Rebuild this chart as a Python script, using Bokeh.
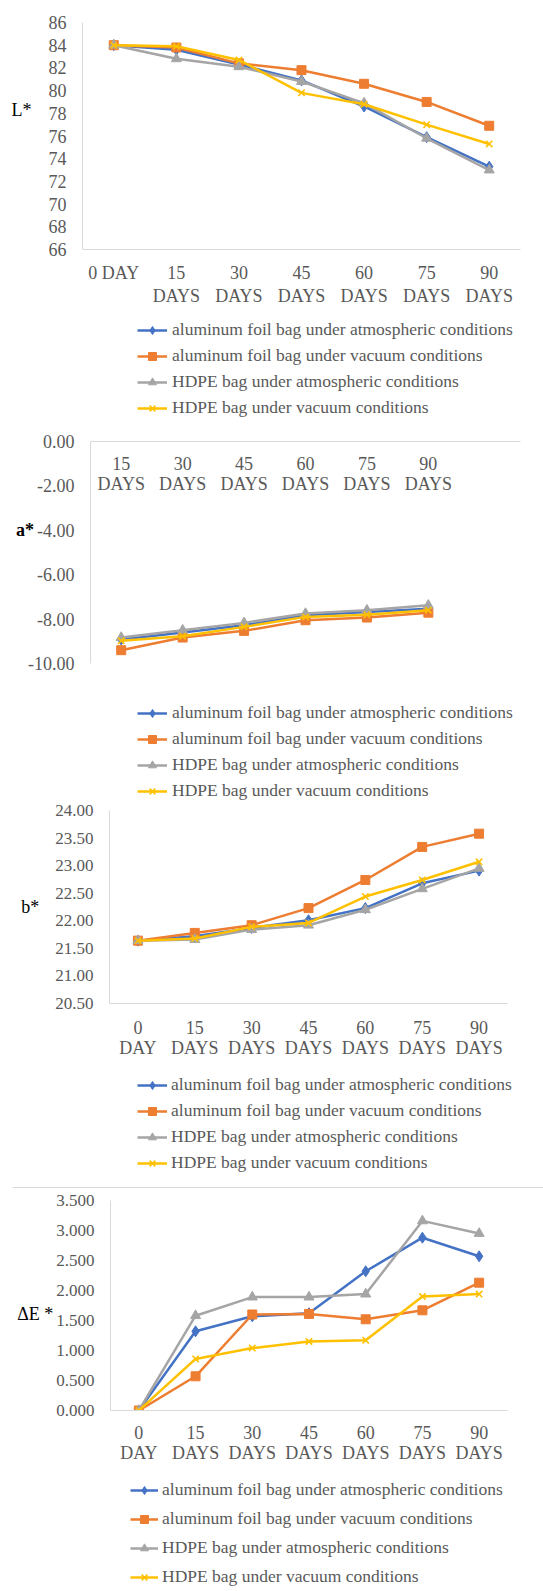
from bokeh.plotting import figure
from bokeh.models import (Range1d, FactorRange, FixedTicker, NumeralTickFormatter,
                          Legend, LegendItem, Div)
from bokeh.layouts import column
from bokeh.embed import file_html
from bokeh.resources import INLINE
from bokeh.core.properties import value

# ---------------- data ----------------
series_names = ["aluminum foil bag under atmospheric conditions",
                "aluminum foil bag under vacuum conditions",
                "HDPE bag under atmospheric conditions",
                "HDPE bag under vacuum conditions"]
series_colors = ["#4472C4", "#ED7D31", "#A5A5A5", "#FFC000"]
series_markers = ["diamond", "square", "triangle", "x"]
series_sizes = [11, 9, 10, 9]

# category labels (as printed on each chart)
days_L = ["0 DAY", "15\nDAYS", "30\nDAYS", "45\nDAYS", "60\nDAYS", "75\nDAYS", "90\nDAYS"]
days_a = ["15\nDAYS", "30\nDAYS", "45\nDAYS", "60\nDAYS", "75\nDAYS", "90\nDAYS"]
days_b = ["0\nDAY", "15\nDAYS", "30\nDAYS", "45\nDAYS", "60\nDAYS", "75\nDAYS", "90\nDAYS"]

# L*
L_alu_atm = [84.0, 83.6, 82.3, 80.9, 78.6, 75.9, 73.3]
L_alu_vac = [84.0, 83.8, 82.4, 81.8, 80.6, 79.0, 76.9]
L_hdpe_atm = [84.0, 82.8, 82.1, 80.8, 78.9, 75.8, 73.0]
L_hdpe_vac = [84.0, 83.9, 82.7, 79.8, 78.8, 77.0, 75.3]
L_ticks = [66, 68, 70, 72, 74, 76, 78, 80, 82, 84, 86]

# a*
a_alu_atm = [-8.92, -8.60, -8.28, -7.83, -7.68, -7.53]
a_alu_vac = [-9.40, -8.83, -8.53, -8.05, -7.93, -7.71]
a_hdpe_atm = [-8.83, -8.50, -8.17, -7.75, -7.60, -7.38]
a_hdpe_vac = [-8.98, -8.77, -8.35, -7.90, -7.80, -7.60]
a_ticks = [0, -2, -4, -6, -8, -10]

# b*
b_alu_atm = [21.64, 21.72, 21.87, 22.01, 22.23, 22.68, 22.91]
b_alu_vac = [21.64, 21.78, 21.92, 22.23, 22.74, 23.34, 23.58]
b_hdpe_atm = [21.64, 21.66, 21.84, 21.92, 22.20, 22.58, 22.95]
b_hdpe_vac = [21.64, 21.68, 21.89, 21.96, 22.44, 22.74, 23.07]
b_ticks = [20.5, 21.0, 21.5, 22.0, 22.5, 23.0, 23.5, 24.0]

# Delta E*
E_alu_atm = [0.0, 1.32, 1.57, 1.62, 2.32, 2.88, 2.57]
E_alu_vac = [0.0, 0.57, 1.60, 1.61, 1.52, 1.67, 2.13]
E_hdpe_atm = [0.0, 1.58, 1.89, 1.89, 1.94, 3.16, 2.95]
E_hdpe_vac = [0.0, 0.86, 1.04, 1.15, 1.17, 1.90, 1.94]
E_ticks = [0.0, 0.5, 1.0, 1.5, 2.0, 2.5, 3.0, 3.5]

FONT = "Liberation Serif"
TICK_COLOR = "#595959"
AXIS_COLOR = "#D9D9D9"
W = 543
NAN = float("nan")


def no_align(p):
    try:
        p.frame_align = False
    except Exception:
        pass


def add_series(p, xs, ys, idx):
    col = series_colors[idx]
    mk = series_markers[idx]
    sz = series_sizes[idx]
    lr = p.line(x=xs, y=ys, line_color=col, line_width=2.5)
    if mk == "x":
        sr = p.scatter(x=xs, y=ys, marker=mk, size=sz, line_color=col, line_width=1.6)
    else:
        sr = p.scatter(x=xs, y=ys, marker=mk, size=sz, fill_color=col, line_color=col)
    return lr, sr


def make_chart(factors, series, y_range, y_ticks, y_format, tick_size,
               ylab_text, ylab_std, ylab_bold, ylab_lh,
               frame_w, frame_h, bl, br, bt, bb,
               x_std=12, x_lh=1.2, x_inside=False, pad_factor=False, y_std=16):
    xf = list(factors) + ([" "] if pad_factor else [])
    p = figure(x_range=FactorRange(factors=xf), y_range=Range1d(*y_range),
               frame_width=frame_w, frame_height=frame_h,
               min_border_left=bl, min_border_right=br,
               min_border_top=bt, min_border_bottom=bb,
               x_axis_location="above" if x_inside else "below",
               output_backend="svg", toolbar_location=None)
    no_align(p)
    p.outline_line_color = None
    p.grid.visible = False
    p.background_fill_color = "white"
    p.border_fill_color = "white"

    for ax in (p.xaxis[0], p.yaxis[0]):
        ax.axis_line_color = AXIS_COLOR
        ax.axis_line_width = 1
        ax.major_tick_line_color = None
        ax.minor_tick_line_color = None
        ax.major_tick_out = 0
        ax.major_tick_in = 0
        ax.minor_tick_out = 0
        ax.minor_tick_in = 0
        ax.major_label_text_font = FONT
        ax.major_label_text_color = TICK_COLOR

    ya = p.yaxis[0]
    ya.ticker = FixedTicker(ticks=y_ticks)
    ya.formatter = NumeralTickFormatter(format=y_format)
    ya.major_label_text_font_size = tick_size
    ya.major_label_standoff = y_std
    ya.axis_label = ylab_text
    ya.axis_label_text_font = FONT
    ya.axis_label_text_font_size = "18px"
    ya.axis_label_text_color = "black"
    ya.axis_label_text_font_style = "bold" if ylab_bold else "normal"
    ya.axis_label_text_line_height = ylab_lh
    ya.axis_label_standoff = ylab_std
    try:
        ya.axis_label_orientation = "horizontal"
    except Exception:
        pass

    xa = p.xaxis[0]
    if x_inside:
        xa.major_label_text_font_size = "0px"
        xa.major_label_text_color = None
        xa.major_label_standoff = 0
        p.text(x=list(factors), y=[y_range[1]] * len(factors), text=list(factors),
               text_font=value(FONT), text_font_size="18px", text_color=TICK_COLOR,
               text_align="center", text_baseline="top", text_line_height=x_lh,
               y_offset=x_std)
    else:
        xa.major_label_text_font_size = "18px"
        xa.major_label_standoff = x_std
        xa.major_label_text_line_height = x_lh

    for i, ys in enumerate(series):
        add_series(p, list(factors)[:len(ys)], ys, i)
    return p


def make_legend(height, leg_x, leg_y, spacing, glyph_w, standoff):
    # a strip that only carries the legend of the chart above it
    lp = figure(width=W, height=height, x_range=Range1d(0, 1), y_range=Range1d(0, 1),
                min_border=0, x_axis_location=None, y_axis_location=None,
                output_backend="svg", toolbar_location=None)
    no_align(lp)
    lp.outline_line_color = None
    for g in lp.grid:
        g.visible = False
    lp.background_fill_color = "white"
    lp.border_fill_color = "white"
    items = []
    for i, name in enumerate(series_names):
        lr, sr = add_series(lp, [NAN], [NAN], i)
        items.append(LegendItem(label=name, renderers=[lr, sr]))
    lp.add_layout(Legend(items=items, location=(leg_x, leg_y), orientation="vertical",
                         border_line_color=None, background_fill_alpha=0,
                         padding=0, margin=0, spacing=spacing,
                         glyph_width=glyph_w, glyph_height=20, label_height=20,
                         label_standoff=standoff, label_text_font=FONT,
                         label_text_font_size="17.5px", label_text_color=TICK_COLOR,
                         label_text_baseline="middle"))
    return lp


p1 = make_chart(days_L, [L_alu_atm, L_alu_vac, L_hdpe_atm, L_hdpe_vac],
                (66, 86), L_ticks, "0", "18px", "L*\n\n", 14, False, 1.3,
                438, 227, 82, 23, 22, 65, x_std=13, x_lh=1.18)
l1 = make_legend(114, 137, 10, 5, 30, 5)

p2 = make_chart(days_a, [a_alu_atm, a_alu_vac, a_hdpe_atm, a_hdpe_vac],
                (-10, 0), a_ticks, "0.00", "18px", "a*\n\n", -9, True, 1.15,
                430, 222, 90, 23, 13, 17, x_std=12, x_lh=1.0,
                x_inside=True, pad_factor=True)
l2 = make_legend(121, 137, 0, 5, 30, 5)

p3 = make_chart(days_b, [b_alu_atm, b_alu_vac, b_hdpe_atm, b_hdpe_vac],
                (20.5, 24.0), b_ticks, "0.00", "17px", "b*", 13, False, 1.2,
                398, 193, 109, 36, 9, 61, x_std=14, x_lh=1.0)
l3 = make_legend(123, 137, 14, 5, 30, 4)

sep = Div(text="", width=530, height=1, margin=(0, 0, 0, 13),
          styles={"background-color": "#D9D9D9"})

p4 = make_chart(days_b, [E_alu_atm, E_alu_vac, E_hdpe_atm, E_hdpe_vac],
                (0.0, 3.5), E_ticks, "0.000", "17px", "\n\u0394E *", 0, False, 0.8,
                397, 210, 110, 36, 12, 58, x_std=12, x_lh=1.0)
l4 = make_legend(123, 130, 4, 8, 28, 4)

layout = column(p1, l1, p2, l2, p3, l3, sep, p4, l4, spacing=0)
open("out.html", "w").write(file_html(layout, INLINE))
